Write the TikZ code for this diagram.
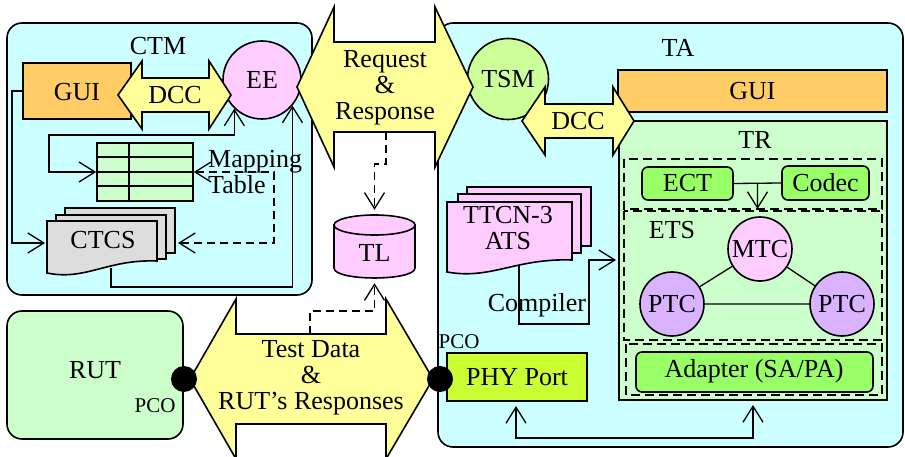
\documentclass[tikz,border=0pt]{standalone}
\usepackage{fontspec}
\setmainfont{Liberation Serif}
\usetikzlibrary{arrows.meta,fit,calc}
\definecolor{cyanbg}{HTML}{CCFFFF}
\definecolor{orng}{HTML}{FFCC66}
\definecolor{yel}{HTML}{FFFF99}
\definecolor{pnk}{HTML}{FFCCFF}
\definecolor{lgreen}{HTML}{CCFFCC}
\definecolor{mgreen}{HTML}{99FF66}
\definecolor{tsmg}{HTML}{CCFF99}
\definecolor{lav}{HTML}{D9B3FF}
\definecolor{phyc}{HTML}{CCFF33}
\definecolor{docgray}{HTML}{DDDDDD}
\newcommand\dblarr[7]{%
  \draw[ln, fill=yel] (#1,#5) -- (#2,{#5-#6}) -- (#2,{#5-#7}) -- (#3,{#5-#7}) -- (#3,{#5-#6}) -- (#4,#5)
    -- (#3,{#5+#6}) -- (#3,{#5+#7}) -- (#2,{#5+#7}) -- (#2,{#5+#6}) -- cycle;}
\newcommand\wavydoc[5]{%
  \draw[ln, fill=#5] (#1,#2) -- (#3,#2) -- (#3,{#4-12})
    .. controls ({#3-0.45*(#3-#1)},{#4-14}) and ({#1+0.35*(#3-#1)},{#4+8}) .. (#1,#4) -- cycle;}
\begin{document}
\begin{tikzpicture}[x=1pt,y=-1pt,
  every node/.style={font=\fontsize{26}{26}\selectfont, inner sep=0pt},
  ln/.style={line width=1.6pt},
  bx/.style={draw, line width=1.6pt, inner sep=0pt},
  conn/.style={line width=1.3pt},
  dsh/.style={line width=1.3pt, dash pattern=on 8pt off 5pt},
  dbox/.style={line width=1.6pt, dash pattern=on 9pt off 5pt},
  small/.style={font=\fontsize{21}{21}\selectfont},
  >={Straight Barb[length=16pt,width=20pt]}]
\useasboundingbox (0,0) rectangle (905,457);
\clip (0,0) rectangle (905,457);

% ---------------- CTM ----------------
\node[bx, rounded corners=15pt, fill=cyanbg, fit={(7,23)(312,295)}] (ctm) {};
\node (ctmlbl) at (158,46) {CTM};
\node[bx, fill=orng, fit={(23,63)(131,119)}] (gui1) {};
\node (gui1txt) at (77,92) {GUI};
\node[bx, fill=lgreen, fit={(97,143)(193,201)}] (tbl) {};
\draw[ln] (129,143) -- (129,201);
\draw[ln] (97,157) -- (193,157) (97,172) -- (193,172) (97,186) -- (193,186);
\node[align=left, anchor=west] (maplbl) at (208,172) {Mapping\\Table};
\draw[ln, fill=docgray] (65,208) rectangle (175,253);
\draw[ln, fill=docgray] (56,215) rectangle (166,259);
\wavydoc{47}{221}{157}{273}{docgray}
\node (ctcs) at (103,240) {CTCS};
\coordinate (ctcsw) at (45,243);
\coordinate (ctcse) at (178,243);
\coordinate (ctcsb) at (111,268);
\node[circle, bx, fill=pnk, minimum size=78pt] (ee) at (262,80) {EE};

\draw[conn, ->] (gui1.west) -- (12,91) |- (ctcsw);
\draw[conn, <->] (tbl.west) -- (49,172) -- (49,135) -| (ee.226);
\draw[conn, ->] (ctcsb) -- (111,287) -| (ee.320);
\draw[dsh, <->] (tbl.east) -- (274,172) |- (ctcse);

\dblarr{118}{142}{209}{231}{95}{34}{17}
\node (dcc1) at (175,95) {DCC};

% ---------------- TA ----------------
\node[bx, rounded corners=15pt, fill=cyanbg, fit={(438,23)(903,447)}] (ta) {};
\node (talbl) at (678,48) {TA};
\node[bx, fill=orng, fit={(618,70)(887,112)}] (gui2) {};
\node (gui2txt) at (gui2.center) {GUI};
\node[bx, fill=lgreen, fit={(619,121)(887,400)}] (tr) {};
\node (trlbl) at (755,140) {TR};
\draw[dbox] (624,159) rectangle (882,209);
\draw[dbox] (624,211) rectangle (882,340);
\draw[dbox] (626,344) rectangle (882,395);
\node[bx, rounded corners=6pt, fill=mgreen, fit={(642,167)(733,200)}] (ect) {};
\node (ecttxt) at (ect.center) {ECT};
\node[bx, rounded corners=6pt, fill=mgreen, fit={(782,166)(869,200)}] (codec) {};
\node (codectxt) at (codec.center) {Codec};
\coordinate (ecmid) at ($(ect.east)!0.5!(codec.west)$);
\coordinate (etstop) at (757.5,209);
\draw[conn] (ect.east) -- (codec.west);
\draw[conn, ->] (ecmid) -- (etstop);
\node (etslbl) at (672,230) {ETS};
\node[circle, bx, fill=pnk, minimum size=64pt] (mtc) at (760,249) {MTC};
\node[circle, bx, fill=lav, minimum size=64pt] (ptc1) at (672,304) {PTC};
\node[circle, bx, fill=lav, minimum size=64pt] (ptc2) at (842,304) {PTC};
\draw[conn] (mtc) -- (ptc1) (mtc) -- (ptc2) (ptc1) -- (ptc2);
\node[bx, rounded corners=6pt, fill=mgreen, fit={(636,352)(873,392)}] (adp) {};
\node (adptxt) at (754,371) {Adapter (SA/PA)};

\draw[ln, fill=pnk] (467,187) rectangle (591,246);
\draw[ln, fill=pnk] (458,194) rectangle (581,253);
\wavydoc{447}{202}{572}{272}{pnk}
\node[align=center] (ttcn) at (508,228) {TTCN-3\\ATS};
\coordinate (ttcnb) at (519,266);
\coordinate (trin) at (616,260);
\draw[conn, ->] (ttcnb) -- (519,324) -| (589,260) -- (trin);
\node (cmp) at (537,305) {Compiler};

\node[bx, fill=phyc, fit={(447,353)(587,401)}] (phy) {};
\node (phytxt) at (phy.center) {PHY Port};
\node[small] (pco2lbl) at (459,342) {PCO};
\coordinate (phyb) at (516,401);
\coordinate (trb) at (753,400);
\draw[conn, <->, shorten <=5pt, shorten >=5pt] (phyb) -- (516,438) -| (trb);

\node[circle, bx, fill=tsmg, minimum size=81pt] (tsm) at (508,79) {TSM};
\dblarr{522}{545}{613}{634}{121}{34}{17}
\node (dcc2) at (578,121) {DCC};

% ---------------- TL ----------------
\draw[ln, fill=pnk] (334,225) -- (334,268) .. controls (334,281.3) and (415,281.3) .. (415,268) -- (415,225) -- cycle;
\draw[ln, fill=pnk] (374.5,225) ellipse[x radius=40.5, y radius=10];
\node[minimum width=81pt, minimum height=63pt] (tl) at (374.5,246.5) {};
\node (tltxt) at (374.5,253) {TL};

% ---------------- RUT ----------------
\node[bx, rounded corners=15pt, fill=lgreen, fit={(7,311)(183,439)}] (rut) {};
\node (rutlbl) at (95,370) {RUT};
\node[small] (pco1lbl) at (155,406) {PCO};

% ---------------- big arrows ----------------
\dblarr{297}{334}{435}{473}{87}{80}{45}
\node[align=center] (rr) at (385,88) {Request\\\&\\Response};
\coordinate (rrb) at (386,132);
\draw[dsh, ->, shorten >=5pt] (rrb) -- (386,164) -| (tl.north);

\dblarr{190}{236}{386}{433}{379}{80}{45}
\node[align=center] (td) at (311,378) {Test Data\\\&\\RUT’s Responses};
\coordinate (tdt) at (310,334);
\draw[dsh, ->, shorten >=5pt] (tdt) -- (310,311) -| (tl.south);

\node[circle, fill=black, minimum size=26pt] (pco1) at (184,379) {};
\node[circle, fill=black, minimum size=26pt] (pco2) at (440,379) {};
\end{tikzpicture}
\end{document}
